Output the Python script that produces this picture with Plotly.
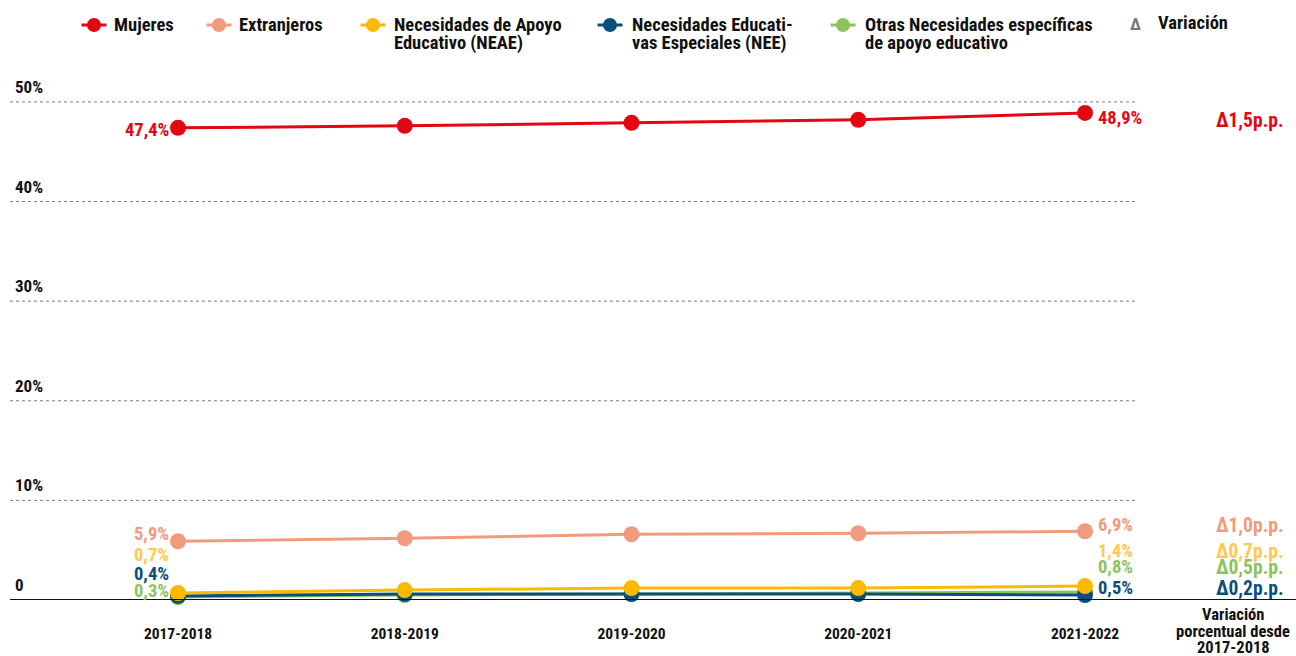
import plotly.graph_objects as go

# ---------------- data ----------------
years = ["2017-2018", "2018-2019", "2019-2020", "2020-2021", "2021-2022"]
mujeres = [47.4, 47.6, 47.9, 48.2, 48.9]
extranjeros = [5.9, 6.2, 6.6, 6.7, 6.9]
neae = [0.7, 1.0, 1.2, 1.2, 1.4]
nee = [0.4, 0.6, 0.6, 0.6, 0.5]
otras = [0.3, 0.5, 0.6, 0.7, 0.8]
var_mujeres = "Δ1,5p.p."
var_extranjeros = "Δ1,0p.p."
var_neae = "Δ0,7p.p."
var_otras = "Δ0,5p.p."
var_nee = "Δ0,2p.p."
y_ticks = [0, 10, 20, 30, 40, 50]
y_tick_labels = ["0", "10%", "20%", "30%", "40%", "50%"]
legend_names = [["Mujeres"], ["Extranjeros"], ["Necesidades de Apoyo", "Educativo (NEAE)"],
                ["Necesidades Educati-", "vas Especiales (NEE)"],
                ["Otras Necesidades específicas", "de apoyo educativo"]]
header_lines = ["Variación", "porcentual desde", "2017-2018"]

FONT = "Liberation Sans Narrow, Roboto Condensed, Arial Narrow, Liberation Sans, sans-serif"
C_RED = "#E30613"
C_SAL = "#F29A7E"
C_YEL = "#FBBA00"
C_YEL_T = "#FDC94F"
C_BLUE = "#0A4E7B"
C_GREEN = "#8CC35A"
C_TXT = "#111111"

W, H = 1296, 656
ML, MR, MT, MB = 10, 0, 82, 56
PW, PH = W - ML - MR, H - MT - MB
YMAX = 52
x_idx = list(range(len(years)))
ppu = (1085 - 178) / 4
x0r = (ML - 178) / ppu
x1r = (W - MR - 178) / ppu


def px2x(px):
    return (px - 178) / ppu


def pxp(px):
    return (px - ML) / PW


def pyp(py):
    return (H - MB - py) / PH


fig = go.Figure()

series = [
    (otras, C_GREEN), (nee, C_BLUE), (neae, C_YEL),
    (extranjeros, C_SAL), (mujeres, C_RED),
]
for vals, col in series:
    fig.add_trace(go.Scatter(
        x=x_idx, y=vals, mode="lines+markers",
        line=dict(color=col, width=3),
        marker=dict(color=col, size=16),
        showlegend=False, hoverinfo="skip", cliponaxis=False))

# gridlines (dotted) and baseline
for v in y_ticks[1:]:
    fig.add_shape(type="line", xref="x", yref="y", x0=x0r, x1=px2x(1138), y0=v, y1=v,
                  line=dict(color="#7a7a7a", width=1, dash="dot"), layer="below")
fig.add_shape(type="line", xref="paper", yref="y", x0=0, x1=1, y0=0, y1=0,
              line=dict(color="#111111", width=2))

ann = []
for v, t in zip(y_ticks, y_tick_labels):
    ann.append(dict(x=pxp(13), xref="paper", y=v, yref="y", text=f"<b>{t}</b>",
                    showarrow=False, xanchor="left", yanchor="bottom", yshift=3,
                    font=dict(family=FONT, size=17, color=C_TXT)))


def fmt(v):
    return f"{v:.1f}".replace(".", ",") + "%"


LBL = 18.5
left = [(mujeres, C_RED, -2), (extranjeros, C_SAL, 7), (neae, C_YEL_T, 38),
        (nee, C_BLUE, 22), (otras, C_GREEN, 6)]
for vals, col, sh in left:
    ann.append(dict(x=0, y=vals[0], xref="x", yref="y", text=f"<b>{fmt(vals[0])}</b>",
                    showarrow=False, xanchor="right", xshift=-8, yshift=sh, borderpad=0,
                    font=dict(family=FONT, size=LBL, color=col)))
right = [(mujeres, C_RED, var_mujeres, -5, -8), (extranjeros, C_SAL, var_extranjeros, 6, 6),
         (neae, C_YEL_T, var_neae, 35, 35), (otras, C_GREEN, var_otras, 25, 25),
         (nee, C_BLUE, var_nee, 7, 7)]
for vals, col, vtxt, sh, shv in right:
    ann.append(dict(x=4, y=vals[-1], xref="x", yref="y", text=f"<b>{fmt(vals[-1])}</b>",
                    showarrow=False, xanchor="left", xshift=12, yshift=sh, borderpad=0,
                    font=dict(family=FONT, size=LBL, color=col)))
    ann.append(dict(x=pxp(1285), xref="paper", y=vals[-1], yref="y",
                    text=f"<b>{vtxt}</b>", borderpad=0,
                    showarrow=False, xanchor="right", yshift=shv,
                    font=dict(family=FONT, size=19.5, color=col)))

for line_txt, py in zip(header_lines, [614, 631, 647]):
    ann.append(dict(x=pxp(1233), xref="paper", y=pyp(py), yref="paper",
                    text=f"<b>{line_txt}</b>", showarrow=False, borderpad=0,
                    xanchor="center", yanchor="middle",
                    font=dict(family=FONT, size=16.5, color=C_TXT)))

# custom legend
leg = [(94, 113, C_RED), (219, 238, C_SAL), (373, 393, C_YEL), (610, 631, C_BLUE),
       (843, 864, C_GREEN)]
for (gx, tx, col), lines in zip(leg, legend_names):
    gy = 25
    fig.add_shape(type="line", xref="paper", yref="paper",
                  x0=pxp(gx - 12.5), x1=pxp(gx + 12.5), y0=pyp(gy), y1=pyp(gy),
                  line=dict(color=col, width=3))
    fig.add_shape(type="circle", xref="paper", yref="paper",
                  x0=pxp(gx - 7), x1=pxp(gx + 7), y0=pyp(gy - 7), y1=pyp(gy + 7),
                  fillcolor=col, line=dict(color=col, width=0))
    for i, lt in enumerate(lines):
        ann.append(dict(x=pxp(tx), xref="paper", y=pyp(25 + 18 * i), yref="paper",
                        text=f"<b>{lt}</b>", showarrow=False, xanchor="left",
                        yanchor="middle", align="left", borderpad=0,
                        font=dict(family=FONT, size=18.5, color=C_TXT)))
ann.append(dict(x=pxp(1135), xref="paper", y=pyp(24), yref="paper", text="<b>Δ</b>",
                showarrow=False, xanchor="center", yanchor="middle",
                font=dict(family=FONT, size=17, color="#777777")))
ann.append(dict(x=pxp(1156), xref="paper", y=pyp(23), yref="paper", text="<b>Variación</b>",
                showarrow=False, xanchor="left", yanchor="middle",
                font=dict(family=FONT, size=18.5, color=C_TXT)))

fig.update_layout(
    width=W, height=H, margin=dict(l=ML, r=MR, t=MT, b=MB),
    plot_bgcolor="white", paper_bgcolor="white",
    annotations=ann, showlegend=False,
    font=dict(family=FONT),
    xaxis=dict(range=[x0r, x1r], tickvals=x_idx, ticktext=[f"<b>{y}</b>" for y in years],
               showgrid=False, zeroline=False, showline=False, ticks="",
               ticklabelstandoff=22,
               tickfont=dict(family=FONT, size=15.5, color=C_TXT), fixedrange=True),
    yaxis=dict(range=[0, YMAX], showgrid=False, zeroline=False, showline=False,
               showticklabels=False, fixedrange=True),
)

fig.write_html("out.html", config={"displayModeBar": False},
               post_script="document.body.style.margin='0';document.body.style.overflow='hidden';")
